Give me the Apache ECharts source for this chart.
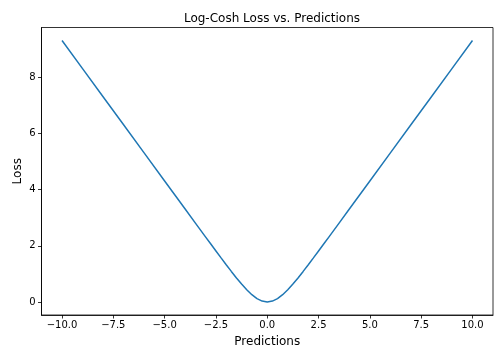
<!DOCTYPE html>
<html>
<head>
<meta charset="utf-8">
<script src="https://cdn.jsdelivr.net/npm/echarts@6/dist/echarts.min.js"></script>
<style>
  html, body { margin: 0; padding: 0; background: #fff; }
  #main { width: 504px; height: 360px; }
</style>
</head>
<body>
<div id="main"></div>
<script>
// values
var predictions = [-10, -9, -8, -7, -6, -5, -4.5, -4, -3.5, -3, -2.75, -2.5, -2.25, -2, -1.75, -1.5, -1.25, -1, -0.75, -0.5, -0.25, 0,
  0.25, 0.5, 0.75, 1, 1.25, 1.5, 1.75, 2, 2.25, 2.5, 2.75, 3, 3.5, 4, 4.5, 5, 6, 7, 8, 9, 10];
var loss = [9.307, 8.307, 7.307, 6.307, 5.307, 4.307, 3.807, 3.307, 2.808, 2.309, 2.061, 1.814, 1.568, 1.325, 1.087, 0.855, 0.636, 0.434, 0.258, 0.120, 0.031, 0,
  0.031, 0.120, 0.258, 0.434, 0.636, 0.855, 1.087, 1.325, 1.568, 1.814, 2.061, 2.309, 2.808, 3.307, 3.807, 4.307, 5.307, 6.307, 7.307, 8.307, 9.307];
var xTicks = [-10, -7.5, -5, -2.5, 0, 2.5, 5, 7.5, 10];
var yTicks = [0, 2, 4, 6, 8];

var myChart = echarts.init(document.getElementById("main"));
var font = "DejaVu Sans";

myChart.setOption({
  animation: false,
  title: {
    text: "Log-Cosh Loss vs. Predictions",
    left: 267,
    top: 8,
    textAlign: "center",
    textStyle: { fontFamily: font, fontSize: 12, fontWeight: "normal", color: "#000" }
  },
  grid: {
    left: 41.5,
    right: 11,
    top: 27.5,
    bottom: 45,
    show: true,
    borderColor: "#000",
    borderWidth: 0.8,
    outerBoundsMode: "none"
  },
  xAxis: {
    type: "value",
    min: -11,
    max: 11,
    name: "Predictions",
    nameLocation: "middle",
    nameGap: 21,
    nameMoveOverlap: false,
    nameTextStyle: { fontFamily: font, fontSize: 12, color: "#000" },
    splitLine: { show: false },
    axisLine: { onZero: false, lineStyle: { color: "#000", width: 0.8 } },
    axisTick: { customValues: xTicks, length: 3.5, lineStyle: { color: "#000", width: 0.8 } },
    axisLabel: {
      customValues: xTicks,
      margin: 5,
      fontFamily: font,
      fontSize: 10,
      color: "#000",
      formatter: function (v) {
        return v.toFixed(1).replace("-", "\u2212");
      }
    }
  },
  yAxis: {
    type: "value",
    min: -0.465,
    max: 9.772,
    name: "Loss",
    nameLocation: "middle",
    nameGap: 18,
    nameMoveOverlap: false,
    nameTextStyle: { fontFamily: font, fontSize: 12, color: "#000" },
    splitLine: { show: false },
    axisLine: { show: true, onZero: false, lineStyle: { color: "#000", width: 0.8 } },
    axisTick: { show: true, customValues: yTicks, length: 3.5, lineStyle: { color: "#000", width: 0.8 } },
    axisLabel: {
      customValues: yTicks,
      margin: 6,
      fontFamily: font,
      fontSize: 10,
      color: "#000"
    }
  },
  series: [{
    type: "line",
    data: predictions.map(function (x, i) { return [x, loss[i]]; }),
    showSymbol: false,
    smooth: false,
    lineStyle: { color: "#1f77b4", width: 1.5 },
    itemStyle: { color: "#1f77b4" }
  }]
});
</script>
</body>
</html>
